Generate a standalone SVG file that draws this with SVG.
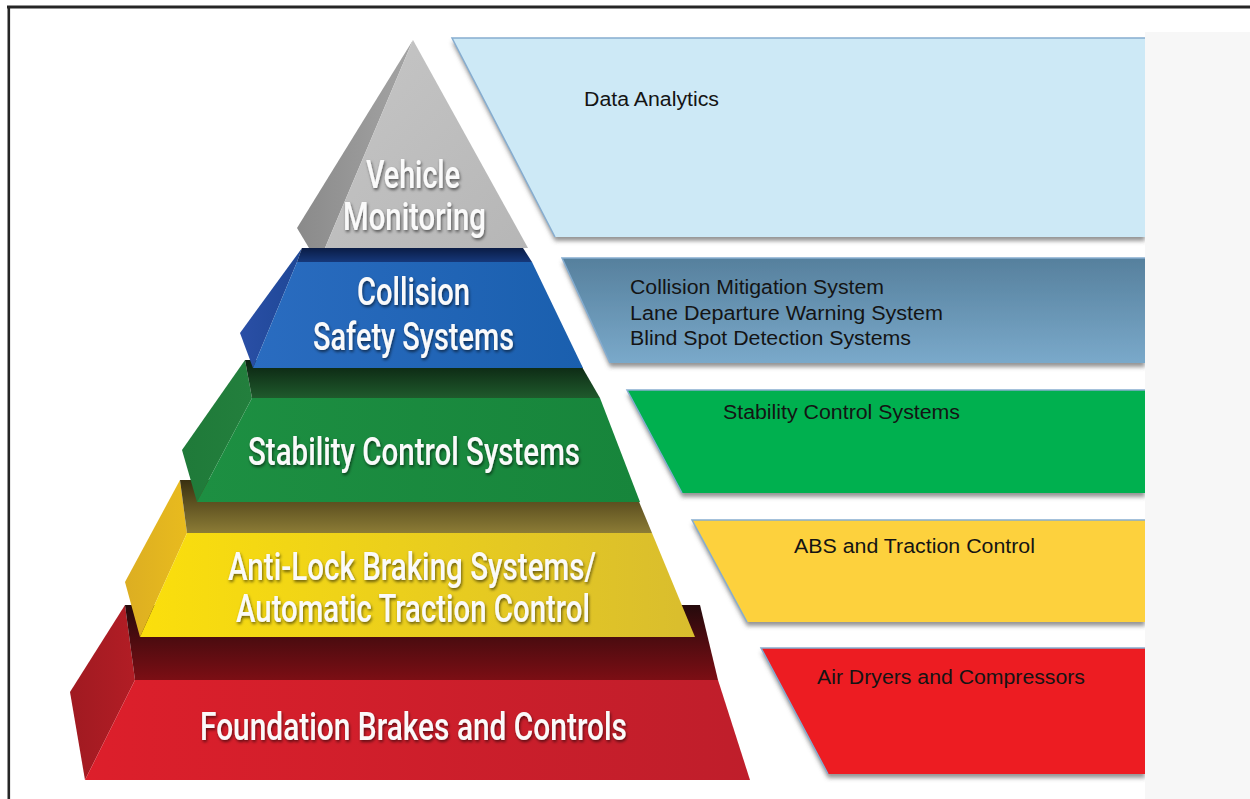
<svg xmlns="http://www.w3.org/2000/svg" width="1250" height="799" viewBox="0 0 1250 799">
  <defs>
    <!-- tier shading -->
    <linearGradient id="grayFront" x1="0" y1="0" x2="1" y2="1">
      <stop offset="0" stop-color="#c6c6c6"/>
      <stop offset="1" stop-color="#b6b6b6"/>
    </linearGradient>
    <linearGradient id="graySide" x1="0" y1="0" x2="1" y2="0">
      <stop offset="0" stop-color="#8a8a8a"/>
      <stop offset="1" stop-color="#a4a4a4"/>
    </linearGradient>

    <linearGradient id="blueBand" x1="0" y1="0" x2="0" y2="1">
      <stop offset="0" stop-color="#0a1c45"/>
      <stop offset="1" stop-color="#16387a"/>
    </linearGradient>
    <linearGradient id="blueFront" x1="0" y1="0" x2="1" y2="0">
      <stop offset="0" stop-color="#2a6cc0"/>
      <stop offset="1" stop-color="#1a5fae"/>
    </linearGradient>
    <linearGradient id="blueSide" x1="0" y1="0" x2="1" y2="0">
      <stop offset="0" stop-color="#2a4fa6"/>
      <stop offset="1" stop-color="#1e4796"/>
    </linearGradient>

    <linearGradient id="greenBand" x1="0" y1="0" x2="0" y2="1">
      <stop offset="0" stop-color="#0a2010"/>
      <stop offset="1" stop-color="#1f5a2c"/>
    </linearGradient>
    <linearGradient id="greenFront" x1="0" y1="0" x2="1" y2="0">
      <stop offset="0" stop-color="#1d8f42"/>
      <stop offset="1" stop-color="#17853b"/>
    </linearGradient>
    <linearGradient id="greenSide" x1="0" y1="0" x2="1" y2="0">
      <stop offset="0" stop-color="#1f7a39"/>
      <stop offset="1" stop-color="#237f3d"/>
    </linearGradient>

    <linearGradient id="yellowBand" x1="0" y1="0" x2="0" y2="1">
      <stop offset="0" stop-color="#3a3010"/>
      <stop offset="1" stop-color="#8c7c36"/>
    </linearGradient>
    <linearGradient id="yellowFront" x1="0" y1="0" x2="1" y2="0">
      <stop offset="0" stop-color="#fbdf0c"/>
      <stop offset="1" stop-color="#d9bd2e"/>
    </linearGradient>
    <linearGradient id="yellowSide" x1="0" y1="0" x2="1" y2="0">
      <stop offset="0" stop-color="#dcae22"/>
      <stop offset="1" stop-color="#e8bb1e"/>
    </linearGradient>

    <linearGradient id="redBand" x1="0" y1="0" x2="0" y2="1">
      <stop offset="0" stop-color="#250a0c"/>
      <stop offset="1" stop-color="#7c0e14"/>
    </linearGradient>
    <linearGradient id="redFront" x1="0" y1="0" x2="1" y2="0">
      <stop offset="0" stop-color="#dd1f2b"/>
      <stop offset="1" stop-color="#bf1e2b"/>
    </linearGradient>
    <linearGradient id="redSide" x1="0" y1="0" x2="1" y2="0">
      <stop offset="0" stop-color="#a01a21"/>
      <stop offset="1" stop-color="#b21d25"/>
    </linearGradient>

    <!-- panel fills -->
    <linearGradient id="steelPanel" x1="0" y1="0" x2="0" y2="1">
      <stop offset="0" stop-color="#56809d"/>
      <stop offset="1" stop-color="#7aa9ca"/>
    </linearGradient>

    <filter id="labelShadow" x="-10%" y="-30%" width="120%" height="170%">
      <feDropShadow dx="1" dy="2" stdDeviation="1.4" flood-color="#000" flood-opacity="0.55"/>
    </filter>
    <filter id="panelShadow" x="-5%" y="-10%" width="110%" height="130%">
      <feDropShadow dx="0" dy="4" stdDeviation="2.2" flood-color="#505050" flood-opacity="0.6"/>
    </filter>
  </defs>

  <style>
    .tier-label { font-family: Roboto, "Liberation Sans", Arial, sans-serif; font-weight: 500; font-size: 39px; fill: #fafafa; filter: url(#labelShadow); }
    .panel { filter: url(#panelShadow); }
    .panel-edge { fill: none; stroke: #86add0; stroke-width: 1.5; }
    .panel-label { font-family: "Liberation Sans", Arial, sans-serif; font-size: 20px; fill: #141414; }
  </style>

  <!-- page -->
  <rect x="0" y="0" width="1250" height="799" fill="#ffffff"/>

  <!-- right-hand panels -->
  <g id="panel-data-analytics">
    <polygon class="panel" points="452,38 1145,38 1145,237 555,237" fill="#cde9f6"/>
    <polyline class="panel-edge" points="555,237 452,38 1145,38"/>
    <text class="panel-label" x="584" y="106" textLength="135" lengthAdjust="spacingAndGlyphs">Data Analytics</text>
  </g>

  <g id="panel-collision">
    <polygon class="panel" points="562,258 1145,258 1145,363 610,363" fill="url(#steelPanel)"/>
    <polyline class="panel-edge" points="610,363 562,258 1145,258"/>
    <text class="panel-label" x="630" y="294" textLength="254" lengthAdjust="spacingAndGlyphs">Collision Mitigation System</text>
    <text class="panel-label" x="630" y="320" textLength="313" lengthAdjust="spacingAndGlyphs">Lane Departure Warning System</text>
    <text class="panel-label" x="630" y="345" textLength="281" lengthAdjust="spacingAndGlyphs">Blind Spot Detection Systems</text>
  </g>

  <g id="panel-stability">
    <polygon class="panel" points="627,390 1145,390 1145,493 682,493" fill="#00b050"/>
    <polyline class="panel-edge" points="682,493 627,390 1145,390"/>
    <text class="panel-label" x="723" y="419" textLength="237" lengthAdjust="spacingAndGlyphs">Stability Control Systems</text>
  </g>

  <g id="panel-abs">
    <polygon class="panel" points="692,520 1145,520 1145,622 747,622" fill="#fdd13c"/>
    <polyline class="panel-edge" points="747,622 692,520 1145,520"/>
    <text class="panel-label" x="794" y="553" textLength="241" lengthAdjust="spacingAndGlyphs">ABS and Traction Control</text>
  </g>

  <g id="panel-air">
    <polygon class="panel" points="761,648 1145,648 1145,774 828,774" fill="#ed1c24"/>
    <polyline class="panel-edge" points="828,774 761,648 1145,648"/>
    <text class="panel-label" x="817" y="684" textLength="268" lengthAdjust="spacingAndGlyphs">Air Dryers and Compressors</text>
  </g>

  <!-- light strip on the right edge -->
  <rect x="1145" y="32" width="105" height="767" fill="#f7f7f7"/>

  <!-- pyramid, drawn from the base up -->
  <g id="tier-foundation">
    <polygon points="125,605 70,692 85,780 135,680" fill="url(#redSide)"/>
    <polygon points="125,605 700,605 718,680 135,680" fill="url(#redBand)"/>
    <polygon points="135,680 718,680 750,780 85,780" fill="url(#redFront)"/>
    <text class="tier-label" x="200" y="740" textLength="427" lengthAdjust="spacingAndGlyphs">Foundation Brakes and Controls</text>
  </g>

  <g id="tier-abs">
    <polygon points="180,480 125,582 140,637 187,533" fill="url(#yellowSide)"/>
    <polygon points="180,480 630,480 652,533 187,533" fill="url(#yellowBand)"/>
    <polygon points="187,533 652,533 695,637 140,637" fill="url(#yellowFront)"/>
    <text class="tier-label" x="228" y="580" textLength="368" lengthAdjust="spacingAndGlyphs">Anti-Lock Braking Systems/</text>
    <text class="tier-label" x="236" y="622" textLength="354" lengthAdjust="spacingAndGlyphs">Automatic Traction Control</text>
  </g>

  <g id="tier-stability">
    <polygon points="245,360 182,450 197,502 252,398" fill="url(#greenSide)"/>
    <polygon points="245,360 578,360 600,398 252,398" fill="url(#greenBand)"/>
    <polygon points="252,398 600,398 640,502 197,502" fill="url(#greenFront)"/>
    <text class="tier-label" x="248" y="465" textLength="332" lengthAdjust="spacingAndGlyphs">Stability Control Systems</text>
  </g>

  <g id="tier-collision">
    <polygon points="302,248 240,333 253,368 297,262" fill="url(#blueSide)"/>
    <polygon points="302,248 523,248 532,262 297,262" fill="url(#blueBand)"/>
    <polygon points="297,262 532,262 583,368 253,368" fill="url(#blueFront)"/>
    <text class="tier-label" x="357" y="305" textLength="113" lengthAdjust="spacingAndGlyphs">Collision</text>
    <text class="tier-label" x="313" y="350" textLength="201" lengthAdjust="spacingAndGlyphs">Safety Systems</text>
  </g>

  <g id="tier-monitoring">
    <polygon points="413,40 297,228 309,248 325,248" fill="url(#graySide)"/>
    <polygon points="413,40 528,248 325,248" fill="url(#grayFront)"/>
    <text class="tier-label" x="366" y="188" textLength="94" lengthAdjust="spacingAndGlyphs">Vehicle</text>
    <text class="tier-label" x="343" y="230" textLength="143" lengthAdjust="spacingAndGlyphs">Monitoring</text>
  </g>

  <!-- frame lines (top and left) -->
  <g id="frame">
    <line x1="7" y1="7" x2="1250" y2="7" stroke="#262626" stroke-width="3"/>
    <line x1="8.8" y1="6" x2="8.8" y2="799" stroke="#262626" stroke-width="2.6"/>
  </g>
</svg>
